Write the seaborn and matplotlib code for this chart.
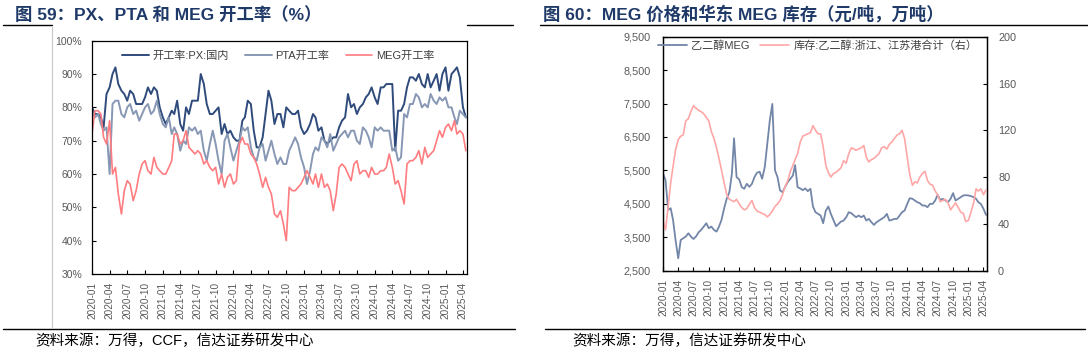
import numpy as np
import pandas as pd
import matplotlib
matplotlib.use('Agg')
import matplotlib.pyplot as plt
import matplotlib.dates as mdates
from matplotlib.ticker import FuncFormatter, MultipleLocator
from matplotlib.lines import Line2D
import seaborn as sns

sns.set_theme(style='white')
plt.rcParams['font.family'] = ['Liberation Sans', 'Noto Sans CJK SC', 'DejaVu Sans']
plt.rcParams['axes.unicode_minus'] = False

# semi-monthly points, 2020-01 .. 2025-04
months = pd.date_range('2020-01-01', '2025-04-01', freq='MS')
dates = [d + pd.Timedelta(days=k) for d in months for k in (0, 15)]

# 图59: operating rates (%)
px_rate = [
    80, 78, 78, 77, 74, 84, 86, 90, 92, 87, 85, 84, 82, 85, 84, 81, 81, 81, 83, 86, 84, 86, 85, 80,
    77, 75, 77, 79, 78, 82, 75, 73, 80, 78, 82, 82, 82, 90, 87, 81, 78, 78, 79, 80, 72, 75, 72, 73,
    71, 70, 70, 76, 77, 82, 81, 73, 68, 68, 71, 78, 85, 82, 75, 78, 78, 74, 80, 79, 78, 78, 79, 74,
    72, 73, 75, 78, 77, 73, 74, 70, 69, 70, 71, 71, 74, 76, 77, 84, 80, 81, 78, 80, 81, 83, 84, 86,
    83, 81, 86, 86, 87, 87, 87, 67, 79, 79, 81, 86, 89, 89, 88, 90, 87, 86, 90, 86, 88, 90, 85, 90,
    92, 85, 90, 91, 92, 89, 80, 77,
]
pta_rate = [
    79, 77, 78, 75, 73, 74, 60, 81, 82, 82, 78, 77, 80, 81, 78, 79, 76, 78, 80, 81, 78, 79, 82, 78,
    75, 74, 77, 72, 74, 72, 67, 70, 69, 74, 73, 74, 72, 73, 67, 64, 69, 73, 69, 64, 60, 70, 72, 68,
    64, 67, 70, 74, 73, 74, 68, 65, 64, 68, 69, 64, 67, 70, 66, 63, 65, 63, 63, 67, 69, 71, 69, 65,
    62, 57, 61, 66, 68, 67, 71, 70, 68, 72, 67, 69, 71, 72, 73, 71, 73, 73, 70, 69, 74, 73, 71, 68,
    74, 73, 74, 73, 73, 73, 67, 68, 64, 65, 78, 77, 81, 81, 84, 83, 80, 81, 80, 84, 82, 81, 83, 82,
    83, 80, 80, 77, 75, 79, 78, 77,
]
meg_rate = [
    72, 79, 79, 78, 71, 69, 76, 60, 62, 54, 48, 55, 58, 57, 52, 55, 60, 63, 64, 61, 60, 65, 62, 61,
    60, 60, 62, 64, 72, 72, 69, 70, 73, 68, 67, 66, 67, 66, 63, 64, 62, 61, 62, 57, 60, 56, 59, 60,
    57, 58, 69, 71, 69, 69, 66, 65, 63, 60, 56, 59, 56, 54, 48, 47, 49, 45, 40, 56, 55, 55, 56, 57,
    59, 61, 59, 57, 60, 56, 60, 56, 57, 55, 49, 54, 62, 63, 62, 60, 58, 63, 64, 60, 61, 61, 59, 62,
    60, 60, 61, 61, 62, 66, 62, 57, 58, 55, 51, 63, 64, 64, 65, 67, 63, 68, 65, 66, 67, 70, 73, 71,
    74, 75, 73, 76, 72, 73, 72, 67,
]

# 图60: MEG price (元/吨) and East China port inventory (万吨, right axis)
meg_price = [
    5410, 5210, 4320, 4370, 4020, 3420, 2870, 3420, 3470, 3520, 3620, 3520,
    3450, 3520, 3650, 3720, 3820, 3920, 3770, 3820, 3720, 3670, 3820, 4020,
    4370, 4650, 4850, 5400, 6460, 5300, 5230, 5000, 4950, 5100, 5010, 5100,
    5300, 5430, 5460, 5250, 5610, 6300, 7000, 7490, 5500, 5300, 4900, 4850,
    5010, 5150, 5250, 5350, 5660, 5000, 4960, 4910, 4960, 4880, 4950, 4420,
    4250, 4200, 4150, 3920, 4300, 4420, 4200, 4020, 3830, 3900, 3970, 4000,
    4100, 4250, 4220, 4150, 4100, 4150, 4100, 4150, 4000, 4050, 3950, 3870,
    3950, 4000, 4050, 4100, 4200, 4000, 4020, 4050, 4050, 4150, 4250, 4300,
    4500, 4670, 4650, 4600, 4550, 4520, 4450, 4450, 4400, 4500, 4500, 4600,
    4770, 4620, 4650, 4600, 4550, 4650, 4820, 4600, 4650, 4700, 4750, 4760,
    4750, 4730, 4700, 4650, 4550, 4500, 4350, 4170,
]
meg_stock = [
    43, 35, 55, 75, 89, 103, 112, 115, 116, 128, 130, 136, 141, 139, 137, 136, 134, 131, 128, 119, 113, 105, 96, 86,
    75, 65, 61, 60, 59, 61, 57, 54, 52, 53, 57, 60, 54, 51, 50, 49, 48, 46, 48, 51, 55, 57, 60, 65,
    72, 77, 85, 90, 95, 100, 110, 115, 116, 117, 118, 124, 120, 117, 117, 106, 90, 84, 80, 83, 84, 86, 88, 94,
    92, 100, 105, 104, 103, 104, 105, 107, 97, 93, 95, 96, 98, 100, 105, 106, 104, 108, 110, 113, 116, 117, 120, 113,
    97, 82, 73, 76, 75, 80, 83, 85, 77, 74, 73, 68, 65, 59, 60, 61, 58, 52, 55, 58, 54, 50, 49, 42,
    43, 50, 58, 70, 68, 70, 65, 69,
]
price_ticks = [2500, 3500, 4500, 5500, 6500, 7500, 8500, 9500]

df1 = pd.DataFrame({'date': dates, 'px': px_rate, 'pta': pta_rate, 'meg': meg_rate})
df2 = pd.DataFrame({'date': dates, 'price': meg_price, 'stock': meg_stock})

W, H = 1088, 354
fig = plt.figure(figsize=(W / 100, H / 100), dpi=100)
ax1 = fig.add_axes([92 / W, 1 - 274 / H, 375 / W, 233.3 / H])
ax2 = fig.add_axes([663 / W, 1 - 270.7 / H, 324 / W, 234 / H])
ax2r = ax2.twinx()

tick_grey = '#595959'
x0, x1 = pd.Timestamp('2020-01-01'), pd.Timestamp('2025-04-22')

# left chart
sns.lineplot(data=df1, x='date', y='px', ax=ax1, color='#2F4B7C', lw=1.4, label='开工率:PX:国内')
sns.lineplot(data=df1, x='date', y='pta', ax=ax1, color='#8797B4', lw=1.4, label='PTA开工率')
sns.lineplot(data=df1, x='date', y='meg', ax=ax1, color='#FF7C80', lw=1.2, label='MEG开工率')
ax1.set_ylim(30, 100)
ax1.yaxis.set_major_locator(MultipleLocator(10))
ax1.yaxis.set_major_formatter(FuncFormatter(lambda v, p: f'{v:.0f}%'))
ax1.legend(loc='center left', bbox_to_anchor=(0.08, 0.934), ncol=3, frameon=False,
           fontsize=8, labelcolor='#404040', handlelength=2.4, handletextpad=0.3,
           columnspacing=1.5, borderpad=0, borderaxespad=0)

# right chart
sns.lineplot(data=df2, x='date', y='price', ax=ax2, color='#7386A8', lw=1.3, label='乙二醇MEG')
sns.lineplot(data=df2, x='date', y='stock', ax=ax2r, color='#FFA7A7', lw=1.2,
             label='库存:乙二醇:浙江、江苏港合计（右）')
ax2.set_ylim(2500, 9500)
ax2.set_yticks(price_ticks)
ax2.yaxis.set_major_formatter(FuncFormatter(lambda v, p: f'{v:,.0f}'))
ax2r.set_ylim(0, 200)
ax2r.yaxis.set_major_locator(MultipleLocator(40))
h1, l1 = ax2.get_legend_handles_labels()
h2, l2 = ax2r.get_legend_handles_labels()
ax2.get_legend().remove()
ax2r.legend(h1 + h2, l1 + l2, loc='center left', bbox_to_anchor=(-0.015, 0.96), ncol=2,
            frameon=False, fontsize=8, labelcolor='#404040', handlelength=2.6,
            handletextpad=0.4, columnspacing=0.9, borderpad=0, borderaxespad=0)

for ax in (ax1, ax2):
    ax.set_xlim(x0, x1)
    ax.xaxis.set_major_locator(mdates.MonthLocator(bymonth=[1, 4, 7, 10]))
    ax.xaxis.set_major_formatter(mdates.DateFormatter('%Y-%m'))
    ax.tick_params(axis='x', direction='in', length=3, width=0.8, color='black',
                   labelcolor=tick_grey, labelsize=7.2, labelrotation=90, pad=6, bottom=True)
    ax.set_xlabel('')
    ax.set_ylabel('')
ax1.tick_params(axis='y', direction='in', length=3, width=0.8, color='black',
                labelcolor=tick_grey, labelsize=7.5, pad=7, left=True)
ax2.tick_params(axis='y', direction='in', length=3, width=0.8, color='black',
                labelcolor=tick_grey, labelsize=7.8, pad=9, left=True)
ax2r.tick_params(axis='y', direction='in', length=3, width=0.8, color='black',
                 labelcolor=tick_grey, labelsize=7.8, pad=8, right=True)
ax2r.set_ylabel('')

for ax in (ax1, ax2, ax2r):
    for s in ax.spines.values():
        s.set_color('black')
        s.set_linewidth(0.9)

# titles, rules and source notes
title_c = '#1F3A68'
fig.text(15 / W, 1 - 14 / H, '图 59：PX、PTA 和 MEG 开工率（%）', fontsize=12.5,
         weight='bold', color=title_c, va='center')
fig.text(543 / W, 1 - 14 / H, '图 60：MEG 价格和华东 MEG 库存（元/吨，万吨）', fontsize=12.5,
         weight='bold', color=title_c, va='center')
fig.text(35 / W, 1 - 341 / H, '资料来源：万得，CCF，信达证券研发中心', fontsize=10.5,
         color='black', va='center')
fig.text(572 / W, 1 - 341 / H, '资料来源：万得，信达证券研发中心', fontsize=10.5,
         color='black', va='center')

def hline(xa, xb, y, color='black', lw=1.0):
    fig.add_artist(Line2D([xa / W, xb / W], [1 - y / H, 1 - y / H], color=color, lw=lw))

hline(3, 52, 25)
hline(467, 513, 25)
hline(540, 1088, 25)
hline(3, 515, 329)
hline(545, 1085, 329)
fig.add_artist(Line2D([52 / W, 52 / W], [1 - 27 / H, 1 - 327 / H], color='#C8C8C8', lw=0.8))

fig.savefig('out.png', dpi=100)
